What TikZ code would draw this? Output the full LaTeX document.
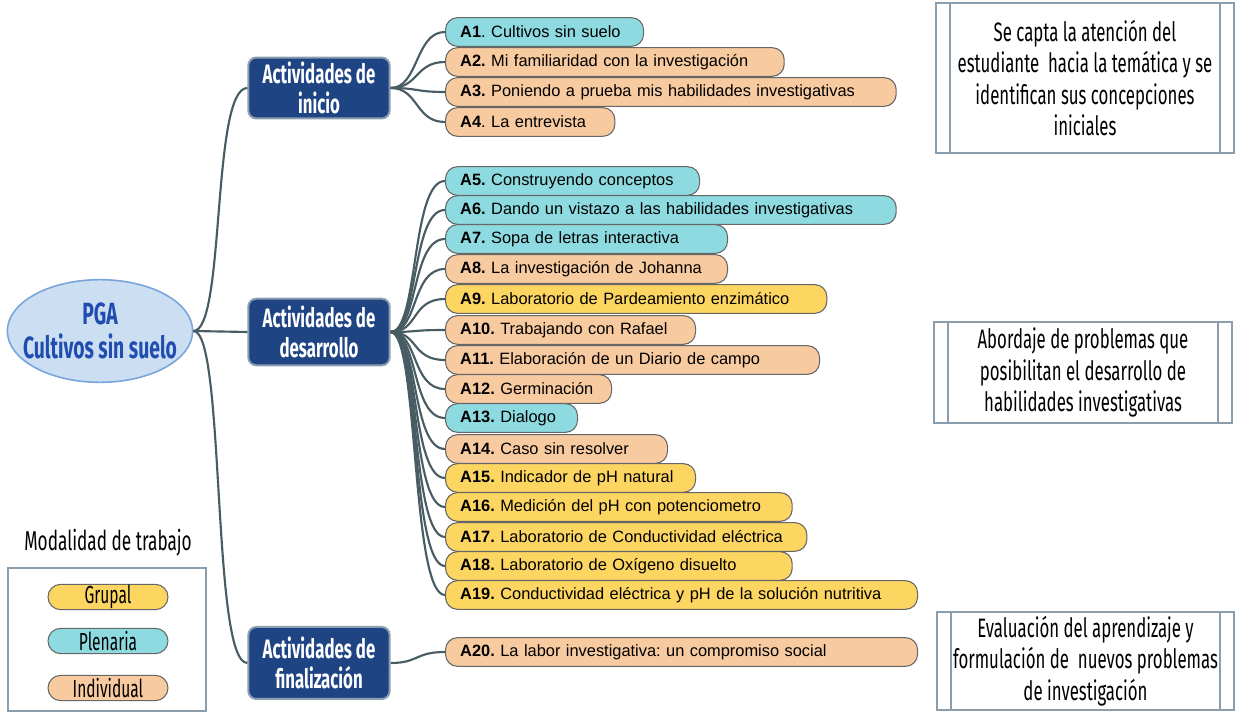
\documentclass[tikz,border=0pt]{standalone}
\usepackage{fontspec}
\setmainfont{Liberation Sans}
\newfontfamily\condfont[FakeStretch=0.63]{Fira Sans}
\usetikzlibrary{shapes.geometric}
\frenchspacing
\definecolor{plenaria}{RGB}{141,219,224}
\definecolor{individual}{RGB}{248,202,160}
\definecolor{grupal}{RGB}{253,214,98}
\definecolor{navy}{RGB}{31,68,132}
\definecolor{linkcol}{RGB}{72,92,100}
\definecolor{boxcol}{RGB}{138,158,174}
\tikzset{
  link/.style={draw=linkcol,line width=1.6pt},
  item/.style={draw=black!60,line width=0.8pt,rounded corners=9pt,anchor=west,
    minimum height=21.5pt,inner xsep=11pt,inner ysep=0pt,align=left,
    font=\fontsize{12.3}{13}\selectfont},
  header/.style={draw=boxcol,line width=1.5pt,fill=navy,rounded corners=6pt,
    text=white,minimum width=106pt,align=center,
    font=\condfont\bfseries\fontsize{20}{22.5}\selectfont},
  note/.style={draw=boxcol,line width=1.5pt,align=center,
    font=\condfont\fontsize{20}{23.5}\selectfont},
  legpill/.style={draw=black!60,line width=0.8pt,rounded corners=9.5pt,
    minimum width=90pt,minimum height=19pt,inner sep=0pt,
    font=\condfont\fontsize{18.5}{18.5}\selectfont}
}
\begin{document}
\begin{tikzpicture}[x=0.75pt,y=-0.75pt]
\useasboundingbox (0,0) rectangle (1236,712);
% root and the three stages
\node[ellipse,draw={rgb,255:red,122;green,165;blue,220},line width=1.2pt,
  fill={rgb,255:red,203;green,222;blue,242},minimum width=139pt,minimum height=77pt,
  inner xsep=-12pt,inner ysep=-6pt,align=center,text={rgb,255:red,32;green,78;blue,176},
  font=\condfont\bfseries\fontsize{23}{26}\selectfont] (pga) at (100,331) {PGA\\Cultivos sin suelo};
\node[header,minimum height=45pt] (ini) at (319,88) {Actividades de\\inicio};
\node[header,minimum height=50pt] (des) at (319,332) {Actividades de\\desarrollo};
\node[header,minimum height=54pt] (fin) at (319,663) {Actividades de\\finalizaci\'on};
\draw[link] (pga.east) .. controls +(32,0) and +(-36,0) .. (ini.west);
\draw[link] (pga.east) -- (des.west);
\draw[link] (pga.east) .. controls +(32,0) and +(-36,0) .. (fin.west);
% activities
\foreach \n/\y/\w/\c/\t in {
  a1/32/126.5/plenaria/{\textbf{A1}. Cultivos sin suelo},
  a2/62/232/individual/{\textbf{A2.} Mi familiaridad con la investigación},
  a3/92/316/individual/{\textbf{A3.} Poniendo a prueba mis habilidades investigativas},
  a4/122/105/individual/{\textbf{A4}. La entrevista}}{
  \draw[link] (ini.east) .. controls +(28,0) and +(-30,0) .. (445,\y);
  \node[item,fill=\c,text width=\w pt] (\n) at (445,\y) {\t};
}
\foreach \n/\y/\w/\c/\t in {
  a5/181/168.5/plenaria/{\textbf{A5.} Construyendo conceptos},
  a6/210/316/plenaria/{\textbf{A6.} Dando un vistazo a las habilidades investigativas},
  a7/239/189.5/plenaria/{\textbf{A7.} Sopa de letras interactiva},
  a8/269/189.5/individual/{\textbf{A8.} La investigación de Johanna},
  a9/299/264/grupal/{\textbf{A9.} Laboratorio de Pardeamiento enzimático},
  a10/330/165.5/individual/{\textbf{A10.} Trabajando con Rafael},
  a11/360/258.5/individual/{\textbf{A11.} Elaboración de un Diario de campo},
  a12/389/102.5/individual/{\textbf{A12.} Germinación},
  a13/418/77/plenaria/{\textbf{A13.} Dialogo},
  a14/449/144.5/individual/{\textbf{A14.} Caso sin resolver},
  a15/478/165.5/grupal/{\textbf{A15.} Indicador de pH natural},
  a16/507/238/grupal/{\textbf{A16.} Medición del pH con potenciometro},
  a17/537/249/grupal/{\textbf{A17.} Laboratorio de Conductividad eléctrica},
  a18/566/238/grupal/{\textbf{A18.} Laboratorio de Oxígeno disuelto},
  a19/595/332/grupal/{\textbf{A19.} Conductividad eléctrica y pH de la solución nutritiva}}{
  \draw[link] (des.east) .. controls +(28,0) and +(-34,0) .. (445,\y);
  \node[item,fill=\c,text width=\w pt] (\n) at (445,\y) {\t};
}
\node[item,fill=individual,text width=332pt] (a20) at (445,652) {\textbf{A20.} La labor investigativa: un compromiso social};
\draw[link] (fin.east) .. controls +(28,0) and +(-30,0) .. (a20.west);
% purpose of each stage
\node[note,minimum width=223.5pt,minimum height=112.5pt] (n1) at (1085,78)
  {Se capta la atención del\\estudiante \ hacia la temática y se\\identifican sus concepciones\\iniciales};
\node[note,minimum width=223.5pt,minimum height=76pt] (n2) at (1083,372.5)
  {Abordaje de problemas que\\posibilitan el desarrollo de\\habilidades investigativas};
\node[note,minimum width=223pt,minimum height=73.5pt] (n3) at (1085.5,661)
  {Evaluación del aprendizaje y\\formulación de \ nuevos problemas\\de investigación};
\foreach \b in {n1,n2,n3}{
  \draw[boxcol,line width=1.5pt] ([xshift=11.5pt]\b.north west) -- ([xshift=11.5pt]\b.south west)
    ([xshift=-11.5pt]\b.north east) -- ([xshift=-11.5pt]\b.south east);
}
% legend
\node[font=\condfont\fontsize{20.5}{22}\selectfont] (legtit) at (108,543) {Modalidad de trabajo};
\draw[boxcol,line width=1.5pt] (8,568) rectangle (206,711);
\node[legpill,fill=grupal] (lg) at (108,597) {Grupal};
\node[legpill,fill=plenaria] (lp) at (108,641) {Plenaria};
\node[legpill,fill=individual] (li) at (108,688) {Individual};
\end{tikzpicture}
\end{document}
